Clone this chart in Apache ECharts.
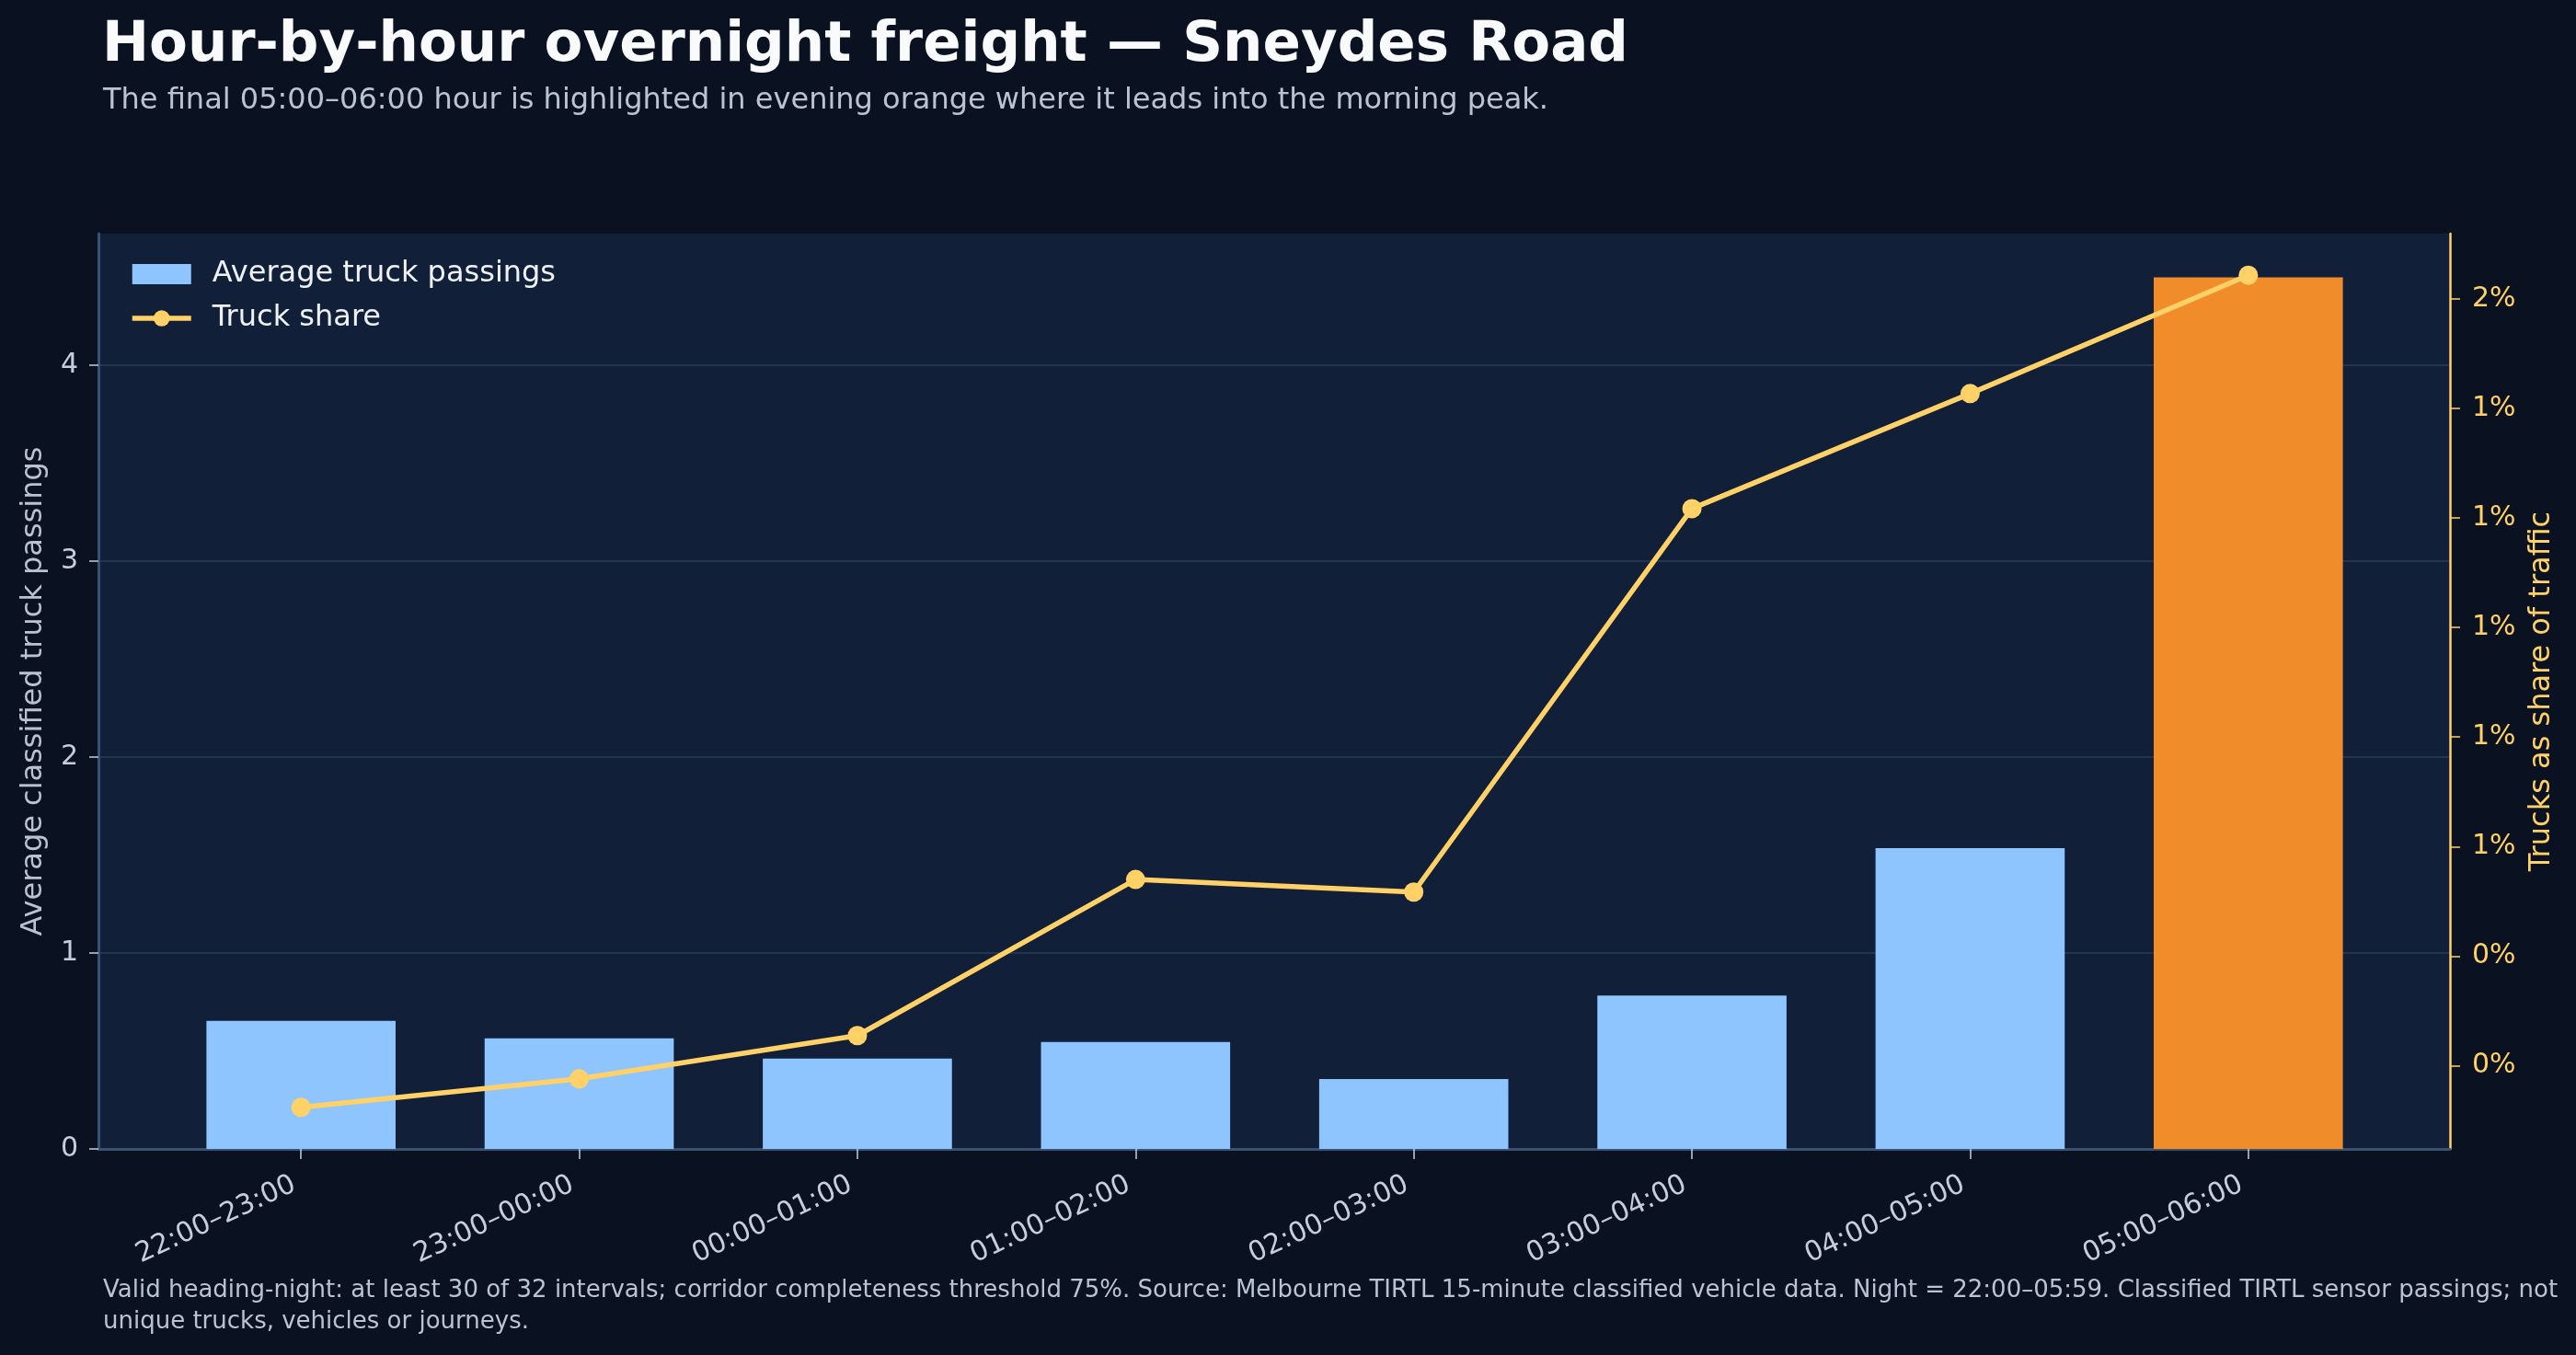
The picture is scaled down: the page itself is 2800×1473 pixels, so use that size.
<!DOCTYPE html>
<html>
<head>
<meta charset="utf-8">
<title>Hour-by-hour overnight freight — Sneydes Road</title>
<script src="https://cdn.jsdelivr.net/npm/echarts@6/dist/echarts.min.js"></script>
<style>
    html, body { margin: 0; padding: 0; background: #0a1120; }
    #chart { width: 2800px; height: 1473px; }
</style>
</head>
<body>
<div id="chart"></div>
<script>
// Hour slots across the night
const categories = ['22:00–23:00', '23:00–00:00', '00:00–01:00', '01:00–02:00',
    '02:00–03:00', '03:00–04:00', '04:00–05:00', '05:00–06:00'];
// Average classified truck passings per hour (left axis)
const truckPassings = [0.654, 0.565, 0.461, 0.546, 0.357, 0.783, 1.536, 4.45];
// Trucks as share of all traffic, in percent (right axis)
const truckSharePct = [0.124, 0.176, 0.255, 0.540, 0.517, 1.217, 1.427, 1.643];
// Tick values shown on each axis
const passingTicks = [0, 1, 2, 3, 4];
const shareTicks = [0.2, 0.4, 0.6, 0.8, 1.0, 1.2, 1.4, 1.6];
// Hour drawn in orange
const highlightHour = '05:00–06:00';

const FONT = 'DejaVu Sans';
const COLORS = {
    page: '#0a1120',
    plot: '#111f38',
    grid: '#23344f',
    spine: '#3b5170',
    text: '#c5cfdc',
    bar: '#8ec5ff',
    highlight: '#f18c2b',
    share: '#ffd166'
};

// matplotlib-style 5% padding on the data range
function padded(values, fromZero) {
    const lo = fromZero ? 0 : Math.min(...values);
    const hi = Math.max(...values);
    const pad = (hi - lo) * 0.05;
    return [fromZero ? 0 : lo - pad, hi + pad];
}
const passingRange = padded(truckPassings, true);
const shareRange = padded(truckSharePct, false);

const chart = echarts.init(document.getElementById('chart'));

// outer box (grid 0) carries the frame, splitlines and visible y axes;
// inner box (grid 1) holds the categories so the side margins match the original
const option = {
    backgroundColor: COLORS.page,
    animation: false,
    textStyle: { fontFamily: FONT },
    title: [
        {
            text: 'Hour-by-hour overnight freight — Sneydes Road',
            left: 106, top: 15,
            textStyle: { color: '#f8fafc', fontSize: 61, fontWeight: 'bold', fontFamily: FONT }
        },
        {
            text: 'The final 05:00–06:00 hour is highlighted in evening orange where it leads into the morning peak.',
            left: 107, top: 89,
            textStyle: { color: '#b9c4d3', fontSize: 32, fontWeight: 'normal', fontFamily: FONT }
        },
        {
            text: 'Valid heading-night: at least 30 of 32 intervals; corridor completeness threshold 75%. Source: Melbourne TIRTL 15-minute classified vehicle data. Night = 22:00–05:59. Classified TIRTL sensor passings; not\nunique trucks, vehicles or journeys.',
            left: 107, top: 1381,
            textStyle: { color: '#b9c4d3', fontSize: 26, lineHeight: 34, fontWeight: 'normal', fontFamily: FONT }
        }
    ],
    legend: {
        orient: 'vertical',
        left: 136, top: 277,
        itemWidth: 64,
        itemHeight: 22,
        itemGap: 16,
        textStyle: { color: '#eef2f7', fontSize: 32, fontFamily: FONT, padding: [0, 0, 0, 18] },
        data: [
            { name: 'Average truck passings', icon: 'rect' },
            { name: 'Truck share', lineStyle: { width: 5.5 } }
        ]
    },
    grid: [
        { left: 107, right: 137, top: 254, bottom: 224, show: true, backgroundColor: COLORS.plot, borderWidth: 0 },
        { left: 176, right: 205, top: 254, bottom: 224 }
    ],
    xAxis: [
        {
            gridIndex: 0, type: 'value', min: 0, max: 1,
            axisLine: { show: true, lineStyle: { color: COLORS.spine, width: 3 } },
            axisTick: { show: false }, axisLabel: { show: false }, splitLine: { show: false }
        },
        {
            gridIndex: 1, type: 'category', data: categories,
            axisLine: { show: false },
            axisTick: { show: true, alignWithLabel: true, length: 11, lineStyle: { color: COLORS.text, width: 1.5 } },
            axisLabel: {
                color: COLORS.text, fontSize: 30, fontFamily: FONT,
                rotate: 25, margin: 34, padding: [0, 8, 0, 0], interval: 0
            }
        }
    ],
    yAxis: [
        {
            gridIndex: 0, type: 'value', position: 'left',
            min: passingRange[0], max: passingRange[1], interval: 1,
            name: 'Average classified truck passings',
            nameLocation: 'middle', nameGap: 54, nameRotate: 90,
            nameTextStyle: { color: '#b8c3d1', fontSize: 32, fontFamily: FONT },
            axisLine: { show: true, lineStyle: { color: COLORS.spine, width: 3 } },
            axisTick: { show: true, length: 10, customValues: passingTicks, lineStyle: { color: COLORS.text, width: 1.5 } },
            axisLabel: { color: COLORS.text, fontSize: 30, fontFamily: FONT, margin: 22, customValues: passingTicks },
            splitLine: { show: true, lineStyle: { color: COLORS.grid, width: 2 } }
        },
        {
            gridIndex: 0, type: 'value', position: 'right',
            min: shareRange[0], max: shareRange[1],
            name: 'Trucks as share of traffic',
            nameLocation: 'middle', nameGap: 84, nameRotate: 90,
            nameTextStyle: { color: COLORS.share, fontSize: 32, fontFamily: FONT },
            axisLine: { show: true, lineStyle: { color: COLORS.share, width: 2.5 } },
            axisTick: { show: true, length: 11, customValues: shareTicks, lineStyle: { color: COLORS.share, width: 1.5 } },
            axisLabel: {
                color: COLORS.share, fontSize: 30, fontFamily: FONT, margin: 24,
                customValues: shareTicks,
                formatter: v => Math.round(v) + '%'
            },
            splitLine: { show: false }
        },
        { gridIndex: 1, type: 'value', min: passingRange[0], max: passingRange[1], show: false },
        { gridIndex: 1, type: 'value', min: shareRange[0], max: shareRange[1], show: false }
    ],
    series: [
        {
            name: 'Average truck passings',
            type: 'bar',
            xAxisIndex: 1, yAxisIndex: 2,
            barWidth: '68%',
            itemStyle: { color: COLORS.bar },
            data: truckPassings.map((v, i) => ({
                value: v,
                itemStyle: categories[i] === highlightHour ? { color: COLORS.highlight } : undefined
            }))
        },
        {
            name: 'Truck share',
            type: 'line',
            xAxisIndex: 1, yAxisIndex: 3,
            symbol: 'circle',
            symbolSize: 21,
            z: 5,
            lineStyle: { color: COLORS.share, width: 5.5 },
            itemStyle: { color: COLORS.share },
            data: truckSharePct
        }
    ]
};

chart.setOption(option);
</script>
</body>
</html>
